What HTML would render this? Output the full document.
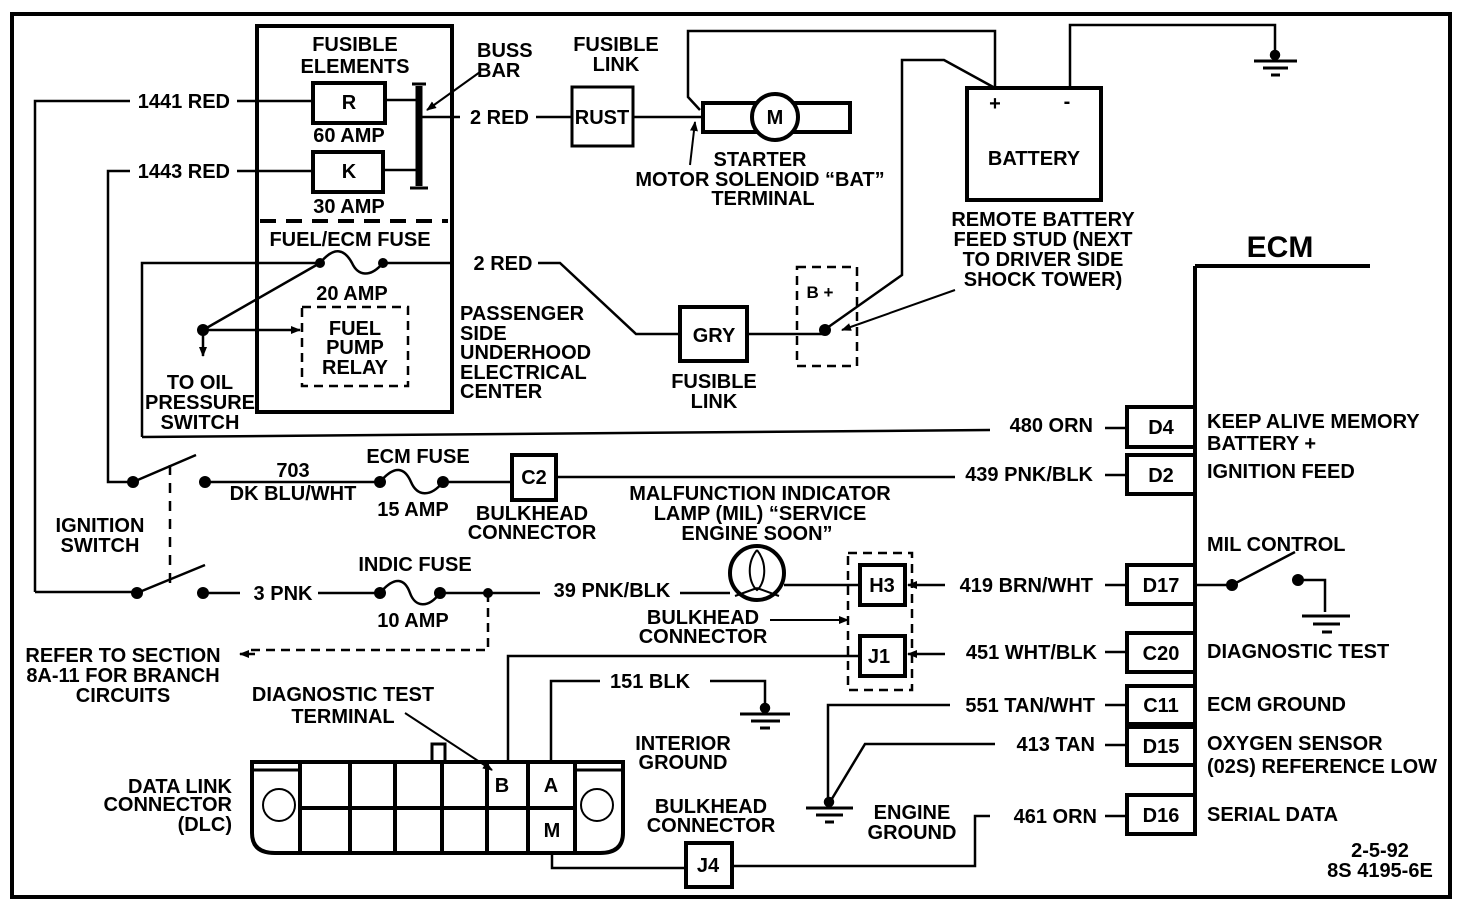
<!DOCTYPE html>
<html><head><meta charset="utf-8"><style>
html,body{margin:0;padding:0;background:#fff}
svg{display:block}
text{font-family:"Liberation Sans Narrow","Liberation Sans",sans-serif;font-weight:bold;font-size:20px;fill:#000}
.m{text-anchor:middle}.e{text-anchor:end}
</style></head><body>
<svg width="1472" height="906" viewBox="0 0 1472 906" xmlns="http://www.w3.org/2000/svg">
<defs>
<marker id="ah" markerWidth="10" markerHeight="8" refX="9" refY="4" orient="auto" markerUnits="userSpaceOnUse"><path d="M0,0 L10,4 L0,8 Z" fill="#000"/></marker>
</defs>
<g fill="none" stroke="#000" stroke-width="2.5">
<path d="M12,897 V14 H1450 V897 Z" stroke-width="4"/>
<rect x="257" y="26" width="195" height="386" stroke-width="4"/>
<line x1="260" y1="221" x2="448" y2="221" stroke-width="4" stroke-dasharray="16,10"/>
<rect x="313" y="83" width="72" height="40" stroke-width="4"/>
<rect x="313" y="152" width="70" height="40" stroke-width="4"/>
<path d="M35,592 V101 H130 M237,101 H313 M385,100 H416"/>
<path d="M133,482 H108 V171 H130 M237,171 H313 M383,170 H416"/>
<path d="M35,592 H133"/>
<line x1="419" y1="86" x2="419" y2="186" stroke-width="7"/>
<path d="M412,84 H426 M410,188 H428" stroke-width="3"/>
<path d="M420,117 H460 M536,117 H572"/>
<line x1="480" y1="72" x2="427" y2="110" marker-end="url(#ah)" stroke-width="2"/>
<rect x="572" y="87" width="61" height="59" stroke-width="3"/>
<path d="M633,117 H703"/>
<rect x="703" y="103" width="147" height="29" stroke-width="4"/>
<circle cx="775" cy="117" r="23" fill="#fff" stroke-width="4"/>
<line x1="690" y1="165" x2="695" y2="122" marker-end="url(#ah)" stroke-width="2"/>
<path d="M700,110 L688,97 V31 H995 V88"/>
<rect x="967" y="88" width="134" height="112" stroke-width="4"/>
<path d="M1070,88 V25 H1275 V55"/>
<circle cx="1275" cy="55" r="4" fill="#000"/>
<path d="M1254,61 H1297 M1263,68 H1288 M1271,75 H1280" stroke-width="3"/>
<path d="M142,437 V263 H320 M320,263 C335,245 345,250 352,263 C358,276 370,278 383,263 M383,263 H450"/>
<path d="M538,263 H560 L636,334 H680"/>
<rect x="680" y="307" width="67" height="54" stroke-width="4"/>
<path d="M747,334 H825"/>
<rect x="797" y="267" width="60" height="99" stroke-width="2.5" stroke-dasharray="9,6"/>
<path d="M827,328 L902,275 V60 H944 L995,88"/>
<line x1="955" y1="290" x2="842" y2="330" marker-end="url(#ah)" stroke-width="2"/>
<path d="M142,437 L990,430"/>
<path d="M203,330 L320,263"/>
<line x1="203" y1="330" x2="300" y2="330" marker-end="url(#ah)"/>
<line x1="203" y1="330" x2="203" y2="356" marker-end="url(#ah)"/>
<rect x="302" y="307" width="106" height="79" stroke-dasharray="9,6"/>
<path d="M1195,266 H1370 M1195,266 V800" stroke-width="4"/>
<rect x="1127" y="407" width="68" height="40" stroke-width="4"/>
<rect x="1127" y="455" width="68" height="39" stroke-width="4"/>
<rect x="1127" y="565" width="68" height="39" stroke-width="4"/>
<rect x="1127" y="633" width="68" height="39" stroke-width="4"/>
<rect x="1127" y="686" width="68" height="38" stroke-width="4"/>
<rect x="1127" y="727" width="68" height="38" stroke-width="4"/>
<rect x="1127" y="795" width="68" height="39" stroke-width="4"/>
<path d="M1105,428 H1127 M1105,475 H1127 M1105,585 H1127 M1105,652 H1127 M1105,705 H1127 M1105,745 H1127 M1105,816 H1127"/>
<path d="M1195,585 H1232 L1295,552"/>
<path d="M1298,580 H1325 V612"/>
<path d="M1302,616 H1350 M1313,624 H1340 M1322,632 H1332" stroke-width="3"/>
<path d="M133,482 L196,455 M137,593 L205,565"/>
<line x1="170" y1="465" x2="170" y2="585" stroke-dasharray="10,8"/>
<path d="M205,482 H380 C395,464 405,468 411,482 C417,496 430,498 443,482 H512 M556,477 H955"/>
<rect x="512" y="455" width="44" height="45" stroke-width="4"/>
<path d="M205,593 H240 M318,593 H380 C395,575 405,579 410,593 C415,607 428,609 440,593 H540 M680,593 H730 M784,585 H858"/>
<circle cx="757" cy="573" r="27" stroke-width="4"/>
<path d="M757,550 C745,565 750,585 757,590 C764,585 769,565 757,550 M757,588 L735,596 M757,588 L779,596" stroke-width="2"/>
<rect x="848" y="553" width="64" height="137" stroke-dasharray="9,6"/>
<rect x="860" y="565" width="45" height="40" stroke-width="4"/>
<rect x="860" y="636" width="45" height="40" stroke-width="4"/>
<line x1="945" y1="585" x2="908" y2="585" marker-end="url(#ah)"/>
<line x1="945" y1="654" x2="908" y2="654" marker-end="url(#ah)"/>
<line x1="770" y1="620" x2="848" y2="620" marker-end="url(#ah)" stroke-width="2"/>
<path d="M488,593 V650 H250" stroke-dasharray="9,6"/>
<path d="M255,654 L240,654" marker-end="url(#ah)"/>
<path d="M508,760 V656 H858"/>
<path d="M551,760 V681 H600 M710,681 H765 V708"/>
<circle cx="765" cy="708" r="4" fill="#000"/>
<path d="M740,714 H790 M751,721 H780 M760,728 H770" stroke-width="3"/>
<line x1="405" y1="713" x2="492" y2="770" stroke-width="2" marker-end="url(#ah)"/>
<path d="M552,853 V868 H686 M732,866 H975 V816 H990"/>
<rect x="686" y="843" width="46" height="44" stroke-width="4"/>
<path d="M950,705 H828 V802 M995,744 H865 L830,802"/>
<circle cx="829" cy="802" r="4" fill="#000"/>
<path d="M806,808 H853 M816,815 H843 M825,822 H834" stroke-width="3"/>
<path d="M252,762 H623 V833 Q623,853 600,853 H275 Q252,853 252,833 Z" stroke-width="4"/>
<path d="M300,762 V853 M350,762 V853 M395,762 V853 M442,762 V853 M487,762 V853 M528,762 V853 M575,762 V853" stroke-width="4"/>
<path d="M300,808 H575" stroke-width="4"/>
<path d="M254,770 H300 M575,770 H621" stroke-width="3"/>
<path d="M432,762 V744 H445 V762" stroke-width="3"/>
<circle cx="279" cy="805" r="16" stroke-width="2"/>
<circle cx="597" cy="805" r="16" stroke-width="2"/>
</g>
<g fill="#000">
<circle cx="320" cy="263" r="5"/><circle cx="383" cy="263" r="5"/>
<circle cx="203" cy="330" r="6"/><circle cx="825" cy="330" r="6"/>
<circle cx="133" cy="482" r="6"/><circle cx="205" cy="482" r="6"/>
<circle cx="380" cy="482" r="6"/><circle cx="443" cy="482" r="6"/>
<circle cx="137" cy="593" r="6"/><circle cx="203" cy="593" r="6"/>
<circle cx="380" cy="593" r="6"/><circle cx="440" cy="593" r="6"/><circle cx="488" cy="593" r="5"/>
<circle cx="1232" cy="585" r="6"/><circle cx="1298" cy="580" r="6"/>
</g>
<g>
<text x="355" y="51" class="m">FUSIBLE</text>
<text x="355" y="73" class="m">ELEMENTS</text>
<text x="349" y="109" class="m">R</text>
<text x="349" y="178" class="m">K</text>
<text x="349" y="142" class="m">60 AMP</text>
<text x="349" y="213" class="m">30 AMP</text>
<text x="230" y="108" class="e">1441 RED</text>
<text x="230" y="178" class="e">1443 RED</text>
<text x="477" y="57">BUSS</text>
<text x="477" y="77">BAR</text>
<text x="470" y="124">2 RED</text>
<text x="616" y="51" class="m">FUSIBLE</text>
<text x="616" y="71" class="m">LINK</text>
<text x="602" y="124" class="m">RUST</text>
<text x="775" y="124" class="m">M</text>
<text x="760" y="166" class="m">STARTER</text>
<text x="760" y="186" class="m">MOTOR SOLENOID “BAT”</text>
<text x="763" y="205" class="m">TERMINAL</text>
<text x="995" y="110" class="m">+</text>
<text x="1067" y="108" class="m">-</text>
<text x="1034" y="165" class="m">BATTERY</text>
<text x="1043" y="226" class="m">REMOTE BATTERY</text>
<text x="1043" y="246" class="m">FEED STUD (NEXT</text>
<text x="1043" y="266" class="m">TO DRIVER SIDE</text>
<text x="1043" y="286" class="m">SHOCK TOWER)</text>
<text x="1280" y="257" class="m" style="font-size:30px">ECM</text>
<text x="350" y="246" class="m">FUEL/ECM FUSE</text>
<text x="352" y="300" class="m">20 AMP</text>
<text x="503" y="270" class="m">2 RED</text>
<text x="355" y="335" class="m">FUEL</text>
<text x="355" y="354" class="m">PUMP</text>
<text x="355" y="374" class="m">RELAY</text>
<text x="200" y="389" class="m">TO OIL</text>
<text x="200" y="409" class="m">PRESSURE</text>
<text x="200" y="429" class="m">SWITCH</text>
<text x="460" y="320">PASSENGER</text>
<text x="460" y="340">SIDE</text>
<text x="460" y="359">UNDERHOOD</text>
<text x="460" y="379">ELECTRICAL</text>
<text x="460" y="398">CENTER</text>
<text x="820" y="298" class="m" style="font-size:17px">B +</text>
<text x="714" y="342" class="m">GRY</text>
<text x="714" y="388" class="m">FUSIBLE</text>
<text x="714" y="408" class="m">LINK</text>
<text x="1093" y="432" class="e">480 ORN</text>
<text x="1161" y="434" class="m">D4</text>
<text x="1093" y="481" class="e">439 PNK/BLK</text>
<text x="1161" y="482" class="m">D2</text>
<text x="1093" y="592" class="e">419 BRN/WHT</text>
<text x="1161" y="592" class="m">D17</text>
<text x="1097" y="659" class="e">451 WHT/BLK</text>
<text x="1161" y="660" class="m">C20</text>
<text x="1095" y="712" class="e">551 TAN/WHT</text>
<text x="1161" y="712" class="m">C11</text>
<text x="1095" y="751" class="e">413 TAN</text>
<text x="1161" y="753" class="m">D15</text>
<text x="1097" y="823" class="e">461 ORN</text>
<text x="1161" y="822" class="m">D16</text>
<text x="1207" y="428">KEEP ALIVE MEMORY</text>
<text x="1207" y="450">BATTERY +</text>
<text x="1207" y="478">IGNITION FEED</text>
<text x="1207" y="551">MIL CONTROL</text>
<text x="1207" y="658">DIAGNOSTIC TEST</text>
<text x="1207" y="711">ECM GROUND</text>
<text x="1207" y="750">OXYGEN SENSOR</text>
<text x="1207" y="773">(02S) REFERENCE LOW</text>
<text x="1207" y="821">SERIAL DATA</text>
<text x="1380" y="857" class="m">2-5-92</text>
<text x="1380" y="877" class="m">8S 4195-6E</text>
<text x="293" y="477" class="m">703</text>
<text x="293" y="500" class="m">DK BLU/WHT</text>
<text x="418" y="463" class="m">ECM FUSE</text>
<text x="413" y="516" class="m">15 AMP</text>
<text x="534" y="484" class="m">C2</text>
<text x="532" y="520" class="m">BULKHEAD</text>
<text x="532" y="539" class="m">CONNECTOR</text>
<text x="100" y="532" class="m">IGNITION</text>
<text x="100" y="552" class="m">SWITCH</text>
<text x="760" y="500" class="m">MALFUNCTION INDICATOR</text>
<text x="760" y="520" class="m">LAMP (MIL) “SERVICE</text>
<text x="757" y="540" class="m">ENGINE SOON”</text>
<text x="283" y="600" class="m">3 PNK</text>
<text x="415" y="571" class="m">INDIC FUSE</text>
<text x="413" y="627" class="m">10 AMP</text>
<text x="612" y="597" class="m">39 PNK/BLK</text>
<text x="882" y="592" class="m">H3</text>
<text x="879" y="663" class="m">J1</text>
<text x="703" y="624" class="m">BULKHEAD</text>
<text x="703" y="643" class="m">CONNECTOR</text>
<text x="123" y="662" class="m">REFER TO SECTION</text>
<text x="123" y="682" class="m">8A-11 FOR BRANCH</text>
<text x="123" y="702" class="m">CIRCUITS</text>
<text x="343" y="701" class="m">DIAGNOSTIC TEST</text>
<text x="343" y="723" class="m">TERMINAL</text>
<text x="650" y="688" class="m">151 BLK</text>
<text x="683" y="750" class="m">INTERIOR</text>
<text x="683" y="769" class="m">GROUND</text>
<text x="232" y="793" class="e">DATA LINK</text>
<text x="232" y="811" class="e">CONNECTOR</text>
<text x="232" y="831" class="e">(DLC)</text>
<text x="502" y="792" class="m">B</text>
<text x="551" y="792" class="m">A</text>
<text x="552" y="837" class="m">M</text>
<text x="711" y="813" class="m">BULKHEAD</text>
<text x="711" y="832" class="m">CONNECTOR</text>
<text x="708" y="872" class="m">J4</text>
<text x="912" y="819" class="m">ENGINE</text>
<text x="912" y="839" class="m">GROUND</text>
</g>
</svg>
</body></html>
